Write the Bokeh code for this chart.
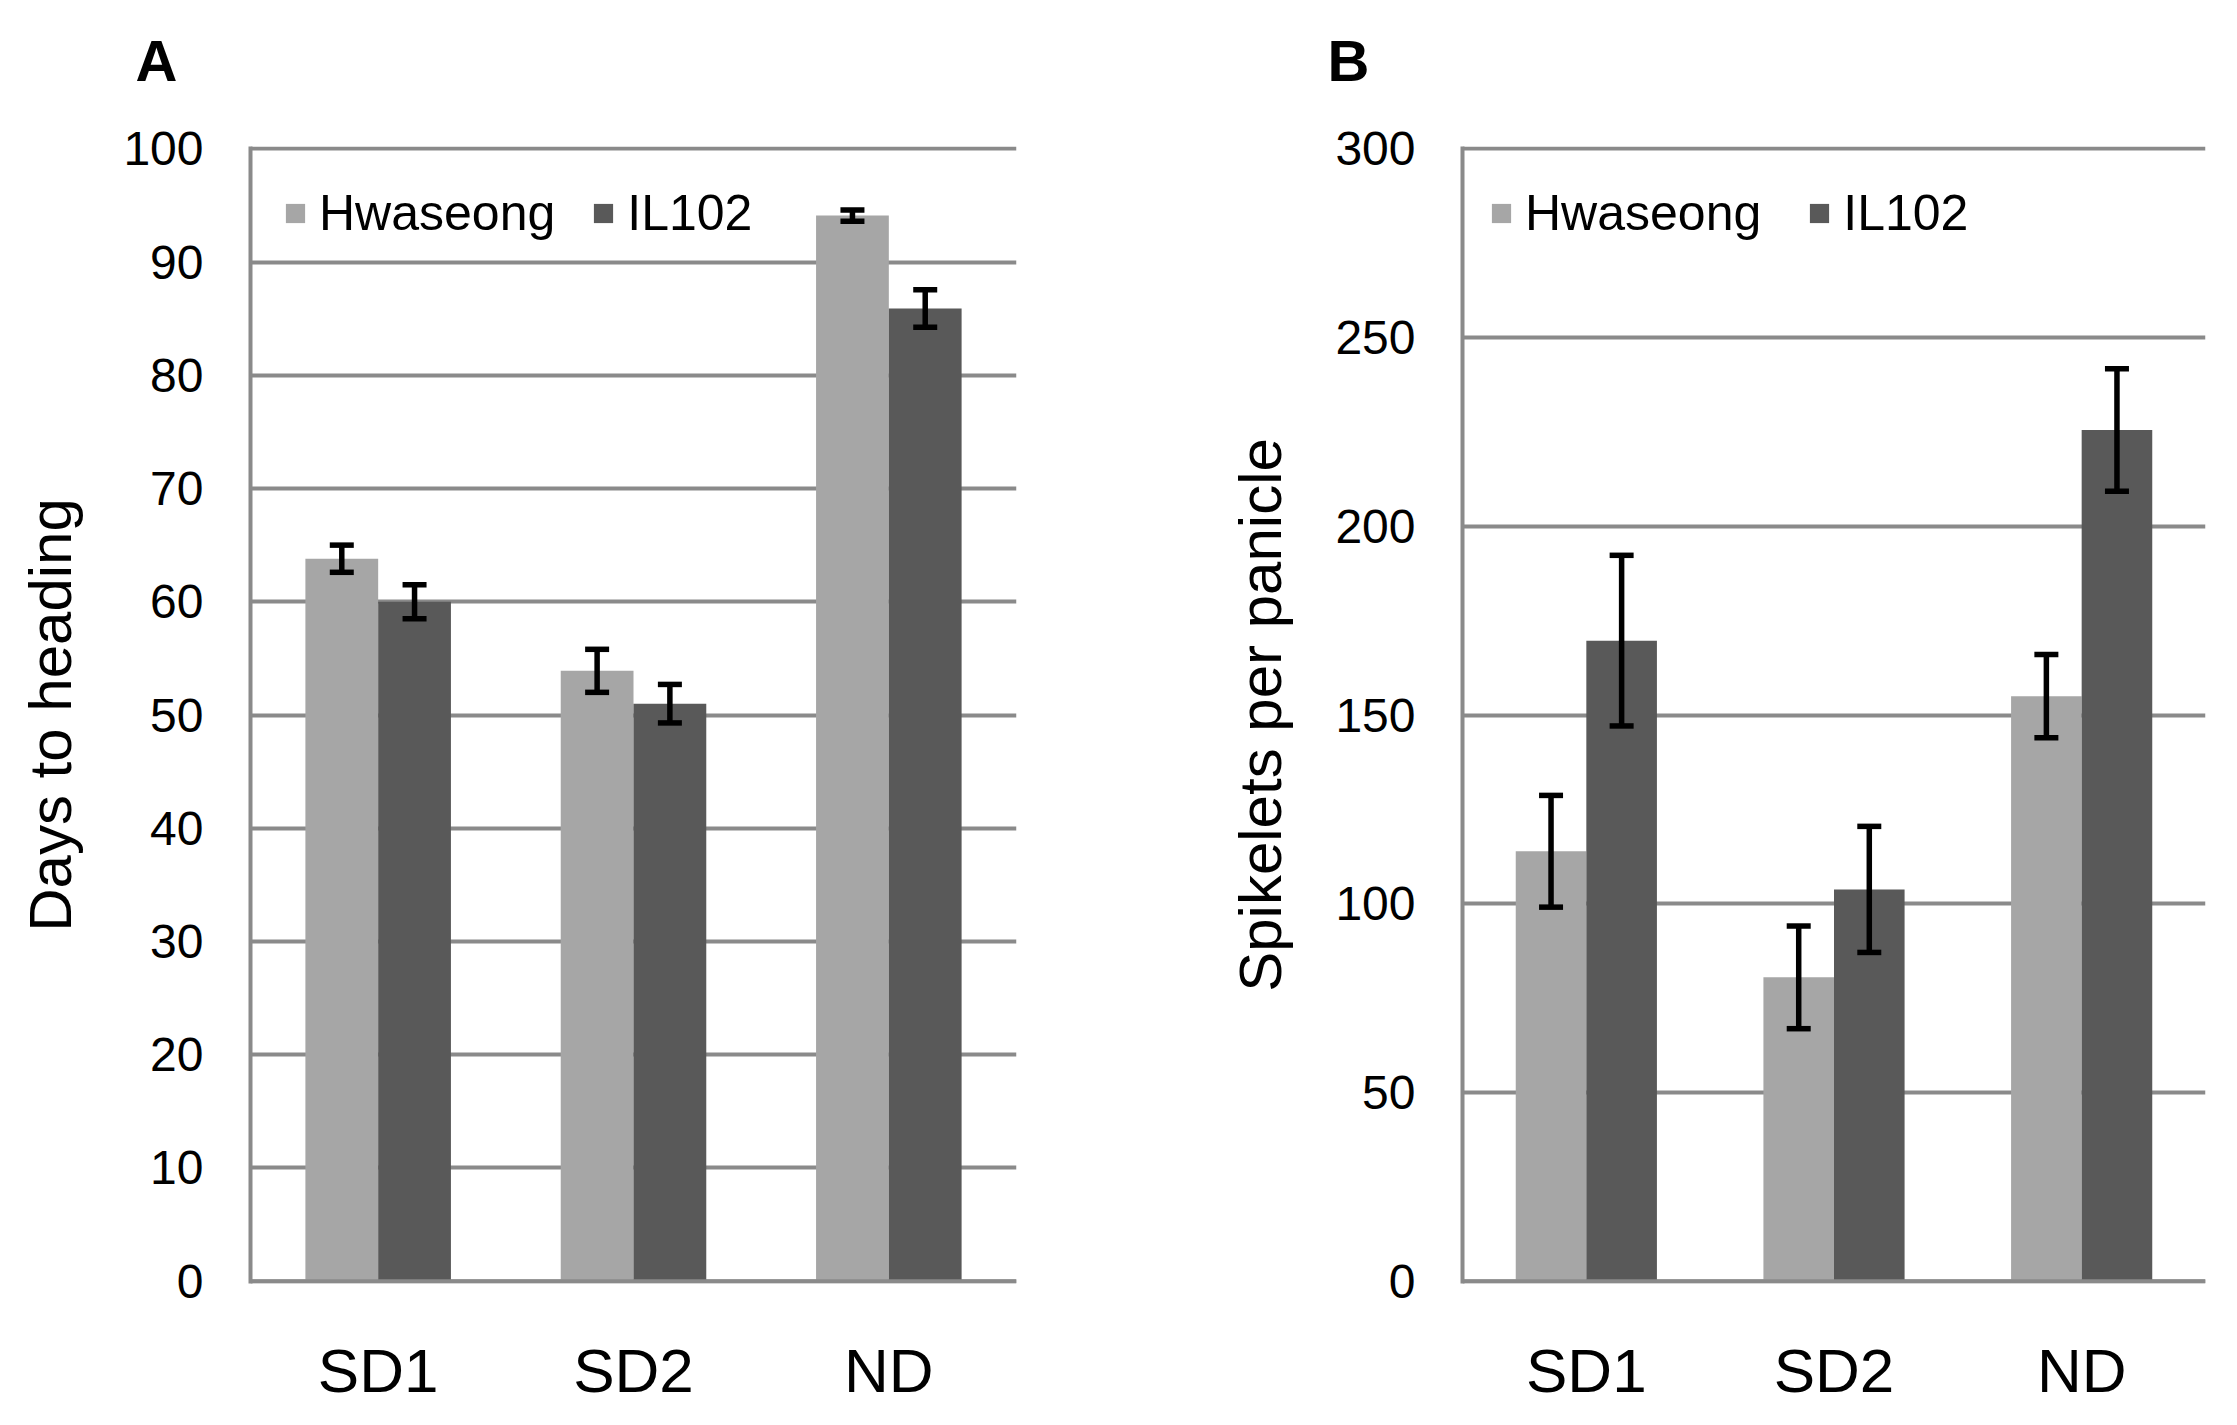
from bokeh.plotting import figure
from bokeh.layouts import row
from bokeh.models import (ColumnDataSource, FactorRange, Range1d, FixedTicker, Whisker,
                          TeeHead, Span, Label)
from bokeh.transform import dodge
from bokeh.embed import file_html
from bokeh.resources import INLINE

# Growth conditions
conditions = ["SD1", "SD2", "ND"]

# Days to heading (mean, error)
days_hwaseong = [63.8, 53.9, 94.1]
days_hwaseong_err = [1.2, 1.9, 0.5]
days_il102 = [60.0, 51.0, 85.9]
days_il102_err = [1.5, 1.7, 1.65]
days_ticks = [0, 10, 20, 30, 40, 50, 60, 70, 80, 90, 100]

# Spikelets per panicle (mean, error)
spk_hwaseong = [113.9, 80.5, 155.0]
spk_hwaseong_err = [14.8, 13.6, 11.0]
spk_il102 = [169.7, 103.8, 225.5]
spk_il102_err = [22.6, 16.7, 16.2]
spk_ticks = [0, 50, 100, 150, 200, 250, 300]

LIGHT = "#a6a6a6"
DARK = "#595959"
GRID = "#8a8a8a"
FONT = "Liberation Sans"
BAR_W = 0.285
ERR_W = 5.5
TOP, BOTTOM, HEIGHT = 146, 142, 1425


def panel(tag, ylabel, hw, hw_err, il, il_err, ymax, ypad, ticks, width,
          border_left, border_right, tick_standoff, label_standoff,
          tag_dx, legend_spacing, legend_margin, legend_row_h):
    src = ColumnDataSource(dict(
        cat=conditions,
        hw=hw, il=il,
        hw_up=[m + e for m, e in zip(hw, hw_err)],
        hw_lo=[m - e for m, e in zip(hw, hw_err)],
        il_up=[m + e for m, e in zip(il, il_err)],
        il_lo=[m - e for m, e in zip(il, il_err)],
    ))
    # a hair of padding keeps the 0 and top gridlines inside the frame
    p = figure(width=width, height=HEIGHT,
               x_range=FactorRange(factors=conditions, range_padding=0),
               y_range=Range1d(-ypad, ymax + ypad),
               min_border_left=border_left, min_border_right=border_right,
               min_border_top=TOP, min_border_bottom=BOTTOM,
               output_backend="svg", toolbar_location=None)
    p.outline_line_color = None
    p.background_fill_color = "white"
    p.border_fill_color = "white"

    # panel letter in the strip above the frame, offset in pixels
    p.add_layout(Label(text=tag, x=tag_dx, y=86,
                       x_units="screen", y_units="screen",
                       text_font=FONT, text_font_size="58px", text_font_style="bold",
                       text_color="black", text_baseline="alphabetic", text_align="left"),
                 "above")

    p.vbar(x=dodge("cat", -BAR_W / 2, range=p.x_range), top="hw", width=BAR_W,
           source=src, fill_color=LIGHT, line_color=None, legend_label="Hwaseong")
    p.vbar(x=dodge("cat", BAR_W / 2, range=p.x_range), top="il", width=BAR_W,
           source=src, fill_color=DARK, line_color=None, legend_label="IL102")

    # baseline drawn over the bars
    p.add_layout(Span(location=0, dimension="width", line_color=GRID,
                      line_width=4, level="overlay"))

    for off, up, lo in ((-BAR_W / 2, "hw_up", "hw_lo"), (BAR_W / 2, "il_up", "il_lo")):
        w = Whisker(source=src, base=dodge("cat", off, range=p.x_range),
                    upper=up, lower=lo, dimension="height",
                    line_color="black", line_width=ERR_W, level="overlay",
                    upper_head=TeeHead(size=24, line_width=ERR_W, line_color="black"),
                    lower_head=TeeHead(size=24, line_width=ERR_W, line_color="black"))
        p.add_layout(w)

    p.xgrid.grid_line_color = None
    p.ygrid.grid_line_color = GRID
    p.ygrid.grid_line_width = 4
    p.yaxis.ticker = FixedTicker(ticks=ticks)

    p.yaxis.axis_line_color = GRID
    p.yaxis.axis_line_width = 4
    p.yaxis.major_tick_line_color = None
    p.yaxis.minor_tick_line_color = None
    p.yaxis.major_tick_out = 0
    p.yaxis.major_label_standoff = tick_standoff
    p.yaxis.major_label_text_font = FONT
    p.yaxis.major_label_text_font_size = "48px"
    p.yaxis.major_label_text_color = "black"
    p.yaxis.axis_label = ylabel
    p.yaxis.axis_label_text_font = FONT
    p.yaxis.axis_label_text_font_size = "60px"
    p.yaxis.axis_label_text_font_style = "normal"
    p.yaxis.axis_label_text_color = "black"
    p.yaxis.axis_label_standoff = label_standoff

    p.xaxis.axis_line_color = None
    p.xaxis.major_tick_line_color = None
    p.xaxis.minor_tick_line_color = None
    p.xaxis.major_tick_out = 0
    p.xaxis.major_label_standoff = 52
    p.xaxis.major_label_text_font = FONT
    p.xaxis.major_label_text_font_size = "62px"
    p.xaxis.major_label_text_color = "black"

    lg = p.legend[0]
    lg.location = "top_left"
    lg.orientation = "horizontal"
    lg.border_line_color = None
    lg.background_fill_alpha = 0
    lg.label_text_font = FONT
    lg.label_text_font_size = "50px"
    lg.label_text_color = "black"
    lg.glyph_width = 24
    lg.glyph_height = 24
    lg.label_height = legend_row_h
    lg.label_standoff = 12
    lg.spacing = legend_spacing
    lg.margin = legend_margin
    lg.padding = 12
    return p


pA = panel("A", "Days to heading", days_hwaseong, days_hwaseong_err,
           days_il102, days_il102_err, 100, 0.2, days_ticks, 1120,
           250, 104, 47, 36, -115, 36, 33, 68)
pB = panel("B", "Spikelets per panicle", spk_hwaseong, spk_hwaseong_err,
           spk_il102, spk_il102_err, 300, 0.6, spk_ticks, 1117,
           342, 32, 47, 38, -135, 46, 27, 80)

layout = row(pA, pB)
open("out.html", "w").write(file_html(layout, INLINE))
